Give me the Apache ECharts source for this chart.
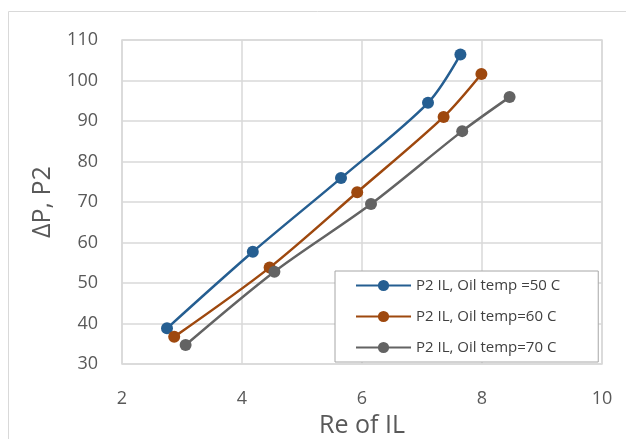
<!DOCTYPE html>
<html>
<head>
<meta charset="utf-8">
<script src="https://cdn.jsdelivr.net/npm/echarts@6/dist/echarts.min.js"></script>
<style>
html,body{margin:0;padding:0;background:#fff;}
#chart{width:626px;height:439px;}
</style>
</head>
<body>
<div id="chart"></div>
<script>
var seriesNames = ['P2 IL, Oil temp =50 C', 'P2 IL, Oil temp=60 C', 'P2 IL, Oil temp=70 C'];
var re50 = [2.75, 4.18, 5.65, 7.10, 7.64];
var dp50 = [38.8, 57.7, 75.9, 94.5, 106.4];
var re60 = [2.87, 4.46, 5.92, 7.36, 7.99];
var dp60 = [36.7, 53.8, 72.4, 91.0, 101.6];
var re70 = [3.06, 4.54, 6.15, 7.67, 8.46];
var dp70 = [34.7, 52.8, 69.5, 87.5, 95.9];
var colors = ['#255e91', '#9e480e', '#636363'];

function pairs(xs, ys) { return xs.map(function (x, i) { return [x, ys[i]]; }); }

var chart = echarts.init(document.getElementById('chart'));
var font = 'Open Sans';
function mk(name, xs, ys, c) {
  return {
    name: name, type: 'line', data: pairs(xs, ys), smooth: 0.3,
    symbol: 'circle', symbolSize: 12,
    lineStyle: { color: c, width: 2.5 },
    itemStyle: { color: c },
    emphasis: { disabled: true }
  };
}
chart.setOption({
  animation: false,
  textStyle: { fontFamily: font },
  graphic: [{
    type: 'rect', shape: { x: 8.5, y: 11.5, width: 700, height: 600 },
    style: { fill: 'none', stroke: '#d9d9d9', lineWidth: 1 }, silent: true, z: -1
  }],
  grid: { left: 122, right: 24, top: 40, bottom: 75, show: true, borderColor: '#d9d9d9', borderWidth: 1.5, outerBoundsMode: 'none', containLabel: false },
  xAxis: {
    type: 'value', min: 2, max: 10, interval: 2,
    name: 'Re of IL', nameLocation: 'middle', nameGap: 48,
    nameTextStyle: { fontSize: 25, color: '#595959', fontFamily: font },
    axisLine: { show: false },
    axisTick: { show: false },
    axisLabel: { fontSize: 18, color: '#595959', margin: 26, fontFamily: font },
    splitLine: { show: true, lineStyle: { color: '#d9d9d9', width: 1.5 } }
  },
  yAxis: {
    type: 'value', min: 30, max: 110, interval: 10,
    name: 'ΔP, P2', nameLocation: 'middle', nameGap: 67, nameRotate: 90,
    nameTextStyle: { fontSize: 25, color: '#595959', fontFamily: font },
    axisLine: { show: false },
    axisTick: { show: false },
    axisLabel: { fontSize: 18, color: '#595959', margin: 24, fontFamily: font },
    splitLine: { show: true, lineStyle: { color: '#d9d9d9', width: 1.5 } }
  },
  legend: {
    data: seriesNames, orient: 'vertical', left: 335, top: 271,
    itemWidth: 55, itemHeight: 14, itemGap: 16,
    padding: [7, 38, 7, 20],
    backgroundColor: '#fff', borderColor: '#a6a6a6', borderWidth: 1,
    textStyle: { fontSize: 15, color: '#404040', fontFamily: font },
    z: 10
  },
  series: [
    mk(seriesNames[0], re50, dp50, colors[0]),
    mk(seriesNames[1], re60, dp60, colors[1]),
    mk(seriesNames[2], re70, dp70, colors[2])
  ]
});
</script>
</body>
</html>
